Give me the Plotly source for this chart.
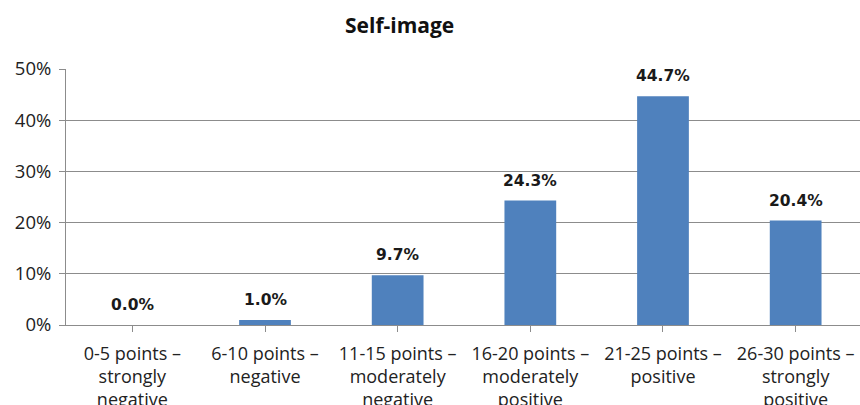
import plotly.graph_objects as go

categories = ["0-5 points –<br>strongly<br>negative", "6-10 points –<br>negative<br> ",
              "11-15 points –<br>moderately<br>negative", "16-20 points –<br>moderately<br>positive",
              "21-25 points –<br>positive<br> ", "26-30 points –<br>strongly<br>positive"]
values = [0.0, 0.010, 0.097, 0.243, 0.447, 0.204]
value_labels = ["0.0%", "1.0%", "9.7%", "24.3%", "44.7%", "20.4%"]

x_idx = list(range(len(categories)))

fig = go.Figure()
fig.add_trace(go.Bar(x=x_idx, y=values, marker=dict(color="#4F81BD", line=dict(width=0)),
                     width=0.39, hoverinfo="skip"))

for xi, v, lab in zip(x_idx, values, value_labels):
    fig.add_annotation(x=xi, y=v, text="<b>" + lab + "</b>", showarrow=False,
                       yanchor="bottom", yshift=9,
                       font=dict(family="DejaVu Sans", size=15.5, color="#1a1a1a"))

fig.add_annotation(xref="paper", yref="paper", x=(399 - 66) / 794, y=1 + (69 - 25) / 256,
                   text="<b>Self-image</b>", showarrow=False, xanchor="center", yanchor="middle",
                   font=dict(family="Open Sans", size=21, color="#111111"))

fig.update_layout(
    width=860, height=405,
    margin=dict(l=66, r=0, t=69, b=80, autoexpand=False),
    plot_bgcolor="white", paper_bgcolor="white",
    showlegend=False,
    xaxis=dict(
        tickmode="array", tickvals=x_idx, ticktext=categories,
        range=[-0.5, 5.485], automargin=False,
        showgrid=False, zeroline=False,
        showline=True, linecolor="#8c8c8c", linewidth=1,
        ticks="outside", ticklen=6, tickcolor="#8c8c8c",
        ticklabelstandoff=6,
        tickfont=dict(family="Open Sans", size=18, color="#222222"),
    ),
    yaxis=dict(
        range=[0, 0.5], dtick=0.1, tickformat=".0%", automargin=False,
        showgrid=True, gridcolor="#8c8c8c", gridwidth=1,
        zeroline=False,
        showline=True, linecolor="#8c8c8c", linewidth=1,
        ticks="outside", ticklen=6, tickcolor="#8c8c8c",
        ticklabelstandoff=4,
        tickfont=dict(family="Open Sans", size=18.5, color="#222222"),
    ),
)
fig.update_xaxes(tickson="boundaries")

fig.write_html("out.html")
